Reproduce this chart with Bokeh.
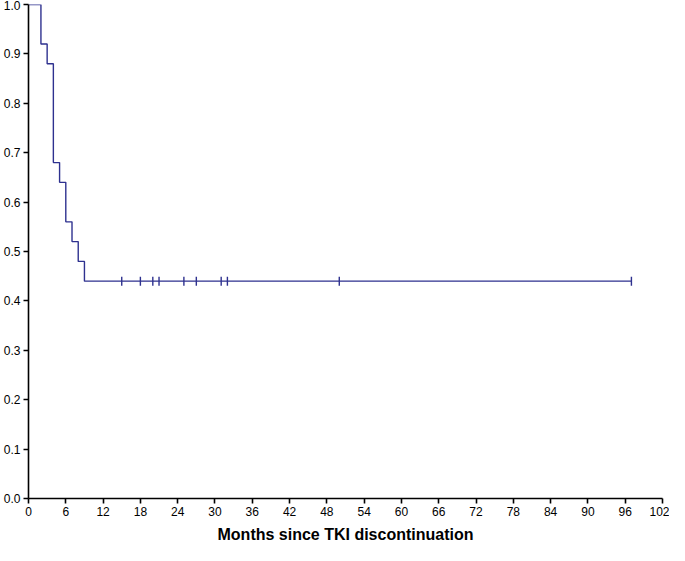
import numpy as np
from bokeh.plotting import figure
from bokeh.models import FixedTicker, NumeralTickFormatter, Range1d
from bokeh.embed import file_html
from bokeh.resources import INLINE

# Kaplan-Meier step data
step_months = [0, 2, 3, 4, 5, 6, 7, 8, 9, 97]
step_survival = [1.0, 0.92, 0.88, 0.68, 0.64, 0.56, 0.52, 0.48, 0.44, 0.44]
# censored observations
censor_months = [15, 18, 20, 21, 25, 27, 31, 32, 50, 97]
censor_survival = [0.44] * len(censor_months)
x_ticks = list(range(0, 103, 6))
y_ticks = [0.0, 0.1, 0.2, 0.3, 0.4, 0.5, 0.6, 0.7, 0.8, 0.9, 1.0]

line_color = "#2e318f"

p = figure(width=669, height=545, output_backend="svg", toolbar_location=None,
           x_range=Range1d(0, 102), y_range=Range1d(0, 1.0),
           min_border_left=0, min_border_right=7, min_border_top=4, min_border_bottom=0)
p.outline_line_color = None
p.xgrid.visible = False
p.ygrid.visible = False

p.step(step_months, step_survival, mode="after", line_color=line_color, line_width=1.4)
p.scatter(censor_months, censor_survival, marker="dash", angle=np.pi / 2, size=9,
          line_color=line_color, line_width=1.4)

for ax in (p.xaxis[0], p.yaxis[0]):
    ax.axis_line_color = "black"
    ax.axis_line_width = 1.6
    ax.major_tick_line_color = "black"
    ax.major_tick_line_width = 1.6
    ax.major_tick_out = 5
    ax.major_tick_in = 0
    ax.minor_tick_line_color = None
    ax.major_label_text_font = "Liberation Sans"
    ax.major_label_text_font_size = "12px"
    ax.major_label_text_color = "black"
    ax.major_label_standoff = 3

p.xaxis.ticker = FixedTicker(ticks=x_ticks)
p.yaxis.ticker = FixedTicker(ticks=y_ticks)
p.yaxis.formatter = NumeralTickFormatter(format="0.0")
p.xaxis.axis_label = "Months since TKI discontinuation"
p.xaxis.axis_label_text_font = "Liberation Sans"
p.xaxis.axis_label_text_font_style = "bold"
p.xaxis.axis_label_text_font_size = "16px"
p.xaxis.axis_label_text_color = "black"
p.xaxis.axis_label_standoff = 7

open("out.html", "w").write(file_html(p, INLINE))
